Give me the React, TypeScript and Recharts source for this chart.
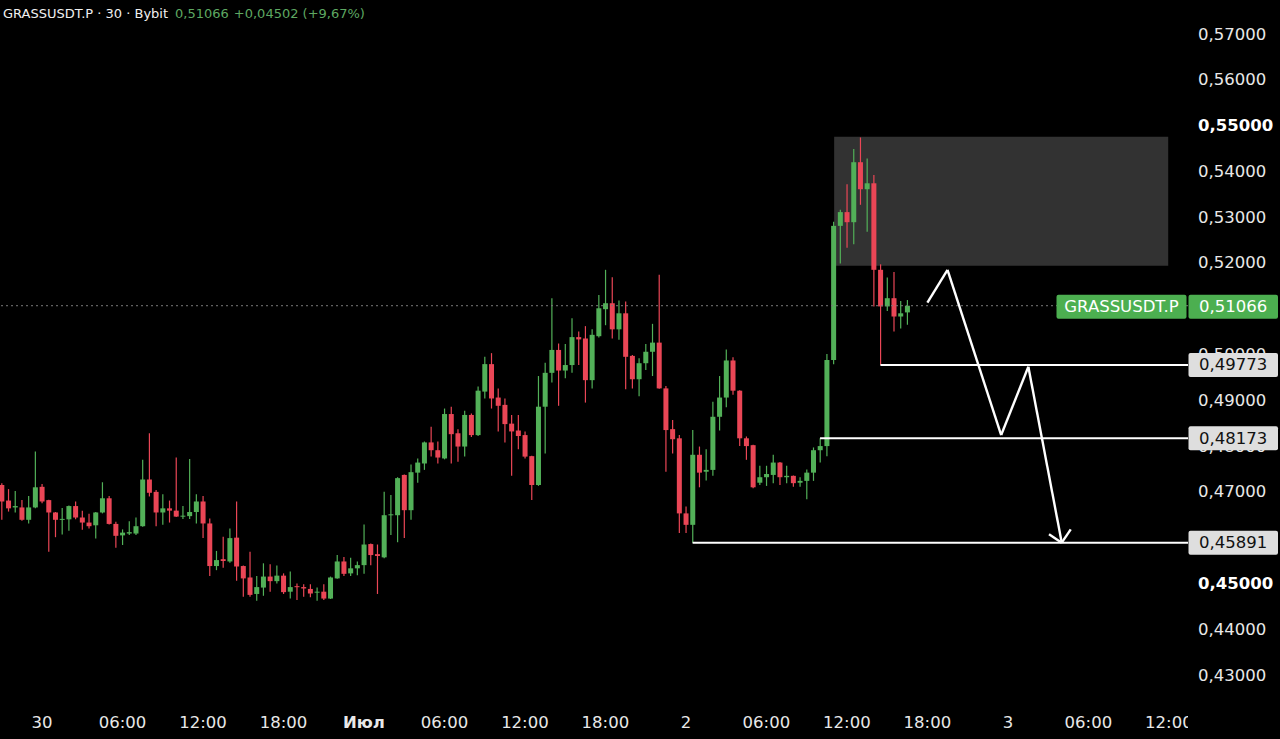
import React from 'react';
import { ComposedChart, Bar, XAxis, YAxis, ReferenceLine, ReferenceArea } from 'recharts';

const CHART_W = 1280;
const CHART_H = 739;
const Y_AXIS_W = 92;
const X_AXIS_H = 34;
const PLOT_W = CHART_W - Y_AXIS_W;

const GREEN = '#52b058';
const RED = '#ea4656';
const TEXT = '#e8e8e8';
const FONT = '"DejaVu Sans", sans-serif';

// 30-minute candles, index 0 = 29 Jun 21:00
const openPrices = [
  0.4715, 0.4681, 0.4666, 0.4666, 0.4639, 0.4666, 0.4711, 0.4682, 0.4655, 0.4639,
  0.4640, 0.4669, 0.4644, 0.4633, 0.4627, 0.4655, 0.4686, 0.4630, 0.4605, 0.4609,
  0.4609, 0.4625, 0.4727, 0.4700, 0.4655, 0.4664, 0.4659, 0.4647, 0.4647, 0.4656,
  0.4679, 0.4631, 0.4538, 0.4553, 0.4548, 0.4600, 0.4538, 0.4513, 0.4477, 0.4491,
  0.4515, 0.4505, 0.4517, 0.4482, 0.4494, 0.4492, 0.4488, 0.4481, 0.4482, 0.4467,
  0.4511, 0.4548, 0.4522, 0.4533, 0.4540, 0.4586, 0.4564, 0.4557, 0.4649, 0.4649,
  0.4737, 0.4660, 0.4742, 0.4762, 0.4808, 0.4791, 0.4773, 0.4870, 0.4828, 0.4799,
  0.4868, 0.4824, 0.4919, 0.4979, 0.4906, 0.4890, 0.4849, 0.4834, 0.4824, 0.4778,
  0.4715, 0.4886, 0.4960, 0.5010, 0.4965, 0.4977, 0.5038, 0.5035, 0.4944, 0.5040,
  0.5099, 0.5112, 0.5055, 0.5090, 0.4997, 0.4946, 0.4981, 0.5006, 0.5026, 0.4926,
  0.4837, 0.4817, 0.4653, 0.4628, 0.4781, 0.4744, 0.4748, 0.4864, 0.4906, 0.4987,
  0.4921, 0.4817, 0.4802, 0.4720, 0.4732, 0.4737, 0.4764, 0.4732, 0.4735, 0.4720,
  0.4724, 0.4742, 0.4791, 0.4800, 0.4988, 0.5281, 0.5311, 0.5289, 0.5420, 0.5361,
  0.5374, 0.5185, 0.5105, 0.5123, 0.5083, 0.5092,
];
const highPrices = [
  0.4719, 0.4706, 0.4702, 0.4682, 0.4691, 0.4788, 0.4717, 0.4683, 0.4656, 0.4665,
  0.4670, 0.4679, 0.4659, 0.4652, 0.4656, 0.4721, 0.4691, 0.4635, 0.4618, 0.4636,
  0.4644, 0.4770, 0.4828, 0.4704, 0.4695, 0.4681, 0.4775, 0.4669, 0.4772, 0.4695,
  0.4691, 0.4642, 0.4571, 0.4602, 0.4620, 0.4679, 0.4539, 0.4569, 0.4516, 0.4544,
  0.4542, 0.4539, 0.4522, 0.4526, 0.4500, 0.4498, 0.4498, 0.4491, 0.4498, 0.4515,
  0.4562, 0.4558, 0.4556, 0.4548, 0.4629, 0.4587, 0.4585, 0.4700, 0.4693, 0.4732,
  0.4738, 0.4760, 0.4773, 0.4810, 0.4842, 0.4810, 0.4882, 0.4886, 0.4837, 0.4877,
  0.4871, 0.4930, 0.4995, 0.5003, 0.4926, 0.4904, 0.4868, 0.4868, 0.4832, 0.4779,
  0.4953, 0.4982, 0.5123, 0.5024, 0.5023, 0.5079, 0.5050, 0.5062, 0.5055, 0.5130,
  0.5185, 0.5169, 0.5118, 0.5116, 0.4999, 0.4992, 0.5023, 0.5067, 0.5174, 0.4931,
  0.4857, 0.4824, 0.4668, 0.4835, 0.4799, 0.4793, 0.4897, 0.4953, 0.5011, 0.4994,
  0.4922, 0.4821, 0.4803, 0.4757, 0.4757, 0.4781, 0.4765, 0.4757, 0.4736, 0.4732,
  0.4749, 0.4797, 0.48173, 0.5001, 0.5290, 0.5316, 0.5372, 0.5449, 0.5474, 0.5428,
  0.5392, 0.5197, 0.5168, 0.5180, 0.5117, 0.5119,
];
const lowPrices = [
  0.4639, 0.4657, 0.4655, 0.4637, 0.4631, 0.4664, 0.4675, 0.4569, 0.4601, 0.4607,
  0.4615, 0.4640, 0.4617, 0.4620, 0.4598, 0.4653, 0.4629, 0.4578, 0.4584, 0.4606,
  0.4606, 0.4624, 0.4690, 0.4625, 0.4628, 0.4633, 0.4645, 0.4641, 0.4641, 0.4631,
  0.4599, 0.4516, 0.4529, 0.4534, 0.4545, 0.4506, 0.4471, 0.4471, 0.4462, 0.4473,
  0.4482, 0.4500, 0.4477, 0.4467, 0.4464, 0.4471, 0.4470, 0.4462, 0.4464, 0.4466,
  0.4510, 0.4516, 0.4516, 0.4518, 0.4521, 0.4540, 0.4477, 0.4555, 0.4606, 0.4590,
  0.4599, 0.4639, 0.4720, 0.4748, 0.4777, 0.4762, 0.4771, 0.4762, 0.4766, 0.4777,
  0.4820, 0.4822, 0.4904, 0.4882, 0.4832, 0.4808, 0.4735, 0.4793, 0.4773, 0.4682,
  0.4713, 0.4784, 0.4939, 0.4888, 0.4948, 0.4960, 0.4977, 0.4895, 0.4926, 0.5037,
  0.5064, 0.5035, 0.5032, 0.4924, 0.4926, 0.4909, 0.4966, 0.4953, 0.4925, 0.4744,
  0.4784, 0.4610, 0.4610, 0.4589, 0.4710, 0.4725, 0.4735, 0.4834, 0.4885, 0.4912,
  0.4800, 0.4770, 0.4708, 0.4715, 0.4713, 0.4719, 0.4715, 0.4719, 0.4711, 0.4711,
  0.4684, 0.4724, 0.4764, 0.4778, 0.4979, 0.5199, 0.5233, 0.5241, 0.5327, 0.5268,
  0.5105, 0.49773, 0.5095, 0.5050, 0.5057, 0.5065,
];
const closePrices = [
  0.4679, 0.4664, 0.4669, 0.4639, 0.4666, 0.4710, 0.4679, 0.4655, 0.4639, 0.4641,
  0.4669, 0.4644, 0.4633, 0.4625, 0.4655, 0.4686, 0.4630, 0.4604, 0.4611, 0.4612,
  0.4625, 0.4727, 0.4698, 0.4655, 0.4664, 0.4659, 0.4646, 0.4648, 0.4656, 0.4679,
  0.4631, 0.4538, 0.4551, 0.4549, 0.4599, 0.4537, 0.4511, 0.4475, 0.4492, 0.4515,
  0.4505, 0.4517, 0.4481, 0.4492, 0.4492, 0.4489, 0.4478, 0.4482, 0.4467, 0.4513,
  0.4548, 0.4521, 0.4533, 0.4540, 0.4585, 0.4562, 0.4560, 0.4649, 0.4651, 0.4730,
  0.4660, 0.4743, 0.4764, 0.4808, 0.4791, 0.4775, 0.4870, 0.4826, 0.4799, 0.4868,
  0.4824, 0.4921, 0.4979, 0.4904, 0.4888, 0.4848, 0.4832, 0.4822, 0.4777, 0.4715,
  0.4886, 0.4960, 0.5010, 0.4965, 0.4977, 0.5038, 0.5033, 0.4944, 0.5043, 0.5101,
  0.5112, 0.5055, 0.5090, 0.4995, 0.4946, 0.4981, 0.5006, 0.5026, 0.4926, 0.4835,
  0.4815, 0.4653, 0.4628, 0.4781, 0.4742, 0.4748, 0.4864, 0.4906, 0.4987, 0.4921,
  0.4817, 0.4800, 0.4710, 0.4732, 0.4739, 0.4764, 0.4732, 0.4735, 0.4719, 0.4724,
  0.4742, 0.4791, 0.4800, 0.4988, 0.5281, 0.5311, 0.5289, 0.5420, 0.5361, 0.5374,
  0.5185, 0.5105, 0.5123, 0.5083, 0.5090, 0.51066,
];

const xDomain = [-0.25, 176.85];
const yDomain = [0.42345, 0.57743];
const yTicks = [0.43, 0.44, 0.45, 0.46, 0.47, 0.48, 0.49, 0.5, 0.51, 0.52, 0.53, 0.54, 0.55, 0.56, 0.57];
const boldYTicks = [0.45, 0.55];
const xTickIdx = [6, 18, 30, 42, 54, 66, 78, 90, 102, 114, 126, 138, 150, 162, 174];
const xTickText = ['30', '06:00', '12:00', '18:00', 'Июл', '06:00', '12:00', '18:00', '2', '06:00', '12:00', '18:00', '3', '06:00', '12:00'];
const boldXTicks = ['Июл'];

const symbol = 'GRASSUSDT.P';
const headerTitle = 'GRASSUSDT.P · 30 · Bybit';
const lastPrice = 0.51066;
const headerChange = '+0,04502 (+9,67%)';

const levelPrices = [0.49773, 0.48173, 0.45891];
const levelStartIdx = [131, 122, 103];

const zoneX = [124.1, 173.9];
const zoneY = [0.51939, 0.54757];

const pathIdx = [138.0, 141.0, 149.0, 153.05, 158.03];
const pathPrice = [0.51131, 0.51846, 0.48242, 0.49734, 0.4589];
const arrowArmIdx = [156.13, 159.37];
const arrowArmPrice = [0.46073, 0.46182];

const fmt = (v: number) => v.toFixed(5).replace('.', ',');

const data = openPrices.map((o, i) => ({
  idx: i,
  open: o,
  high: highPrices[i],
  low: lowPrices[i],
  close: closePrices[i],
  range: [lowPrices[i], highPrices[i]],
}));

const Candle = (props: any) => {
  const { x, y, width, height, payload } = props;
  if (!payload || height == null) return null;
  const { open, close, high, low } = payload;
  const up = close >= open;
  const color = up ? GREEN : RED;
  const ratio = height / (high - low);
  const yOpen = y + (high - open) * ratio;
  const yClose = y + (high - close) * ratio;
  const top = Math.min(yOpen, yClose);
  const bodyH = Math.max(1, Math.abs(yOpen - yClose));
  const cx = x + width / 2;
  return (
    <g>
      <line x1={cx} x2={cx} y1={y} y2={y + height} stroke={color} strokeWidth={1.2} />
      <rect x={x} y={top} width={width} height={bodyH} fill={color} />
    </g>
  );
};

const YTick = (props: any) => {
  const { x, y, payload } = props;
  const v = payload.value;
  const bold = boldYTicks.some((b) => Math.abs(b - v) < 1e-9);
  return (
    <text
      x={x}
      y={y}
      dominantBaseline="central"
      textAnchor="start"
      fill={bold ? '#ffffff' : TEXT}
      fontWeight={bold ? 700 : 400}
      fontFamily={FONT}
      fontSize={16.5}
    >
      {fmt(v)}
    </text>
  );
};

const XTick = (props: any) => {
  const { x, y, payload } = props;
  const k = xTickIdx.indexOf(payload.value);
  const label = k >= 0 ? xTickText[k] : '';
  const bold = boldXTicks.includes(label);
  const w = 80;
  const left = x - w / 2;
  const visW = Math.max(0, Math.min(w, PLOT_W - left));
  return (
    <svg x={left} y={y} width={visW} height={30} overflow="hidden">
      <text
        x={w / 2}
        y={17}
        dominantBaseline="central"
        textAnchor="middle"
        fill={TEXT}
        fontWeight={bold ? 700 : 400}
        fontFamily={FONT}
        fontSize={16.5}
      >
        {label}
      </text>
    </svg>
  );
};

const LevelTag = (props: any) => {
  const { viewBox, price } = props;
  if (!viewBox) return null;
  const right = viewBox.x + viewBox.width;
  const cy = viewBox.y + (viewBox.height || 0) / 2;
  return (
    <g>
      <rect x={right + 0.5} y={cy - 12} width={89.5} height={24} rx={2} fill="#dedede" />
      <text x={right + 11} y={cy} dominantBaseline="central" fill="#111" fontFamily={FONT} fontSize={16.5}>
        {fmt(price)}
      </text>
    </g>
  );
};

const LastTag = (props: any) => {
  const { viewBox, price } = props;
  if (!viewBox) return null;
  const right = viewBox.x + viewBox.width;
  const cy = viewBox.y + (viewBox.height || 0) / 2 + 1;
  return (
    <g>
      <rect x={right - 131.5} y={cy - 12} width={130} height={24} rx={2} fill="#4caf50" />
      <text x={right - 66.5} y={cy} dominantBaseline="central" textAnchor="middle" fill="#fff" fontFamily={FONT} fontSize={16.5}>
        {symbol}
      </text>
      <rect x={right + 0.5} y={cy - 12} width={89.5} height={24} rx={2} fill="#4caf50" />
      <text x={right + 11} y={cy} dominantBaseline="central" fill="#fff" fontFamily={FONT} fontSize={16.5}>
        {fmt(price)}
      </text>
    </g>
  );
};

const HiddenShape = () => null;

export default function App() {
  const pathSegments = pathIdx.slice(1).map((xi, k) => [
    { x: pathIdx[k], y: pathPrice[k] },
    { x: xi, y: pathPrice[k + 1] },
  ]);
  const tipX = pathIdx[pathIdx.length - 1];
  const tipY = pathPrice[pathPrice.length - 1];
  const arrowSegments = arrowArmIdx.map((ax, k) => [
    { x: ax, y: arrowArmPrice[k] },
    { x: tipX, y: tipY },
  ]);

  const layer: React.CSSProperties = { position: 'absolute', left: 0, top: 0 };

  return (
    <div style={{ position: 'absolute', left: 0, top: 0, width: CHART_W, height: CHART_H, background: '#000', overflow: 'hidden' }}>
      <div style={layer}>
        <ComposedChart width={CHART_W} height={CHART_H} data={data} margin={{ top: 0, right: 0, bottom: 0, left: 0 }}>
          <XAxis
            dataKey="idx"
            type="number"
            domain={xDomain}
            ticks={xTickIdx}
            height={X_AXIS_H}
            axisLine={false}
            tickLine={false}
            tickSize={0}
            tickMargin={0}
            interval={0}
            tick={<XTick />}
          />
          <YAxis
            orientation="right"
            type="number"
            domain={yDomain}
            ticks={yTicks}
            width={Y_AXIS_W}
            axisLine={false}
            tickLine={false}
            tickSize={0}
            tickMargin={10}
            interval={0}
            tick={<YTick />}
          />
          <ReferenceArea
            x1={zoneX[0]}
            x2={zoneX[1]}
            y1={zoneY[0]}
            y2={zoneY[1]}
            fill="#323232"
            fillOpacity={1}
            stroke="none"
            ifOverflow="visible"
          />
          <ReferenceLine y={lastPrice} stroke="#7a7a7a" strokeDasharray="2 3" strokeWidth={1} ifOverflow="visible" />
          <Bar dataKey="range" barSize={5} isAnimationActive={false} shape={(p: any) => <Candle {...p} />} />
          {levelPrices.map((p, k) => (
            <ReferenceLine
              key={'lvl' + k}
              segment={[
                { x: levelStartIdx[k], y: p },
                { x: xDomain[1], y: p },
              ]}
              stroke="#ffffff"
              strokeWidth={2}
              ifOverflow="visible"
            />
          ))}
          {pathSegments.map((seg, k) => (
            <ReferenceLine key={'path' + k} segment={seg} stroke="#ffffff" strokeWidth={2.4} ifOverflow="visible" />
          ))}
          {arrowSegments.map((seg, k) => (
            <ReferenceLine key={'arr' + k} segment={seg} stroke="#ffffff" strokeWidth={2.4} ifOverflow="visible" />
          ))}
        </ComposedChart>
      </div>
      {/* price tags layer: same scales, drawn above the axis labels */}
      <div style={{ ...layer, pointerEvents: 'none' }}>
        <ComposedChart width={CHART_W} height={CHART_H} data={data} margin={{ top: 0, right: 0, bottom: 0, left: 0 }}>
          <XAxis
            dataKey="idx"
            type="number"
            domain={xDomain}
            ticks={xTickIdx}
            height={X_AXIS_H}
            axisLine={false}
            tickLine={false}
            tick={false}
          />
          <YAxis
            orientation="right"
            type="number"
            domain={yDomain}
            ticks={yTicks}
            width={Y_AXIS_W}
            axisLine={false}
            tickLine={false}
            tick={false}
          />
          <Bar dataKey="range" barSize={5} isAnimationActive={false} shape={(p: any) => <HiddenShape />} />
          <ReferenceLine
            y={lastPrice}
            stroke="#000000"
            strokeOpacity={0}
            strokeWidth={1}
            ifOverflow="visible"
            label={<LastTag price={lastPrice} />}
          />
          {levelPrices.map((p, k) => (
            <ReferenceLine
              key={'tag' + k}
              segment={[
                { x: levelStartIdx[k], y: p },
                { x: xDomain[1], y: p },
              ]}
              stroke="#000000"
              strokeOpacity={0}
              strokeWidth={1}
              ifOverflow="visible"
              label={<LevelTag price={p} />}
            />
          ))}
        </ComposedChart>
      </div>
      <div
        style={{
          position: 'absolute',
          left: 3,
          top: 6,
          fontFamily: FONT,
          fontSize: 13,
          lineHeight: '16px',
          color: '#f0f0f0',
          whiteSpace: 'nowrap',
        }}
      >
        {headerTitle}
        <span style={{ color: '#5ea862', marginLeft: 7 }}>{fmt(lastPrice)}</span>
        <span style={{ color: '#5ea862', marginLeft: 5 }}>{headerChange}</span>
      </div>
    </div>
  );
}
